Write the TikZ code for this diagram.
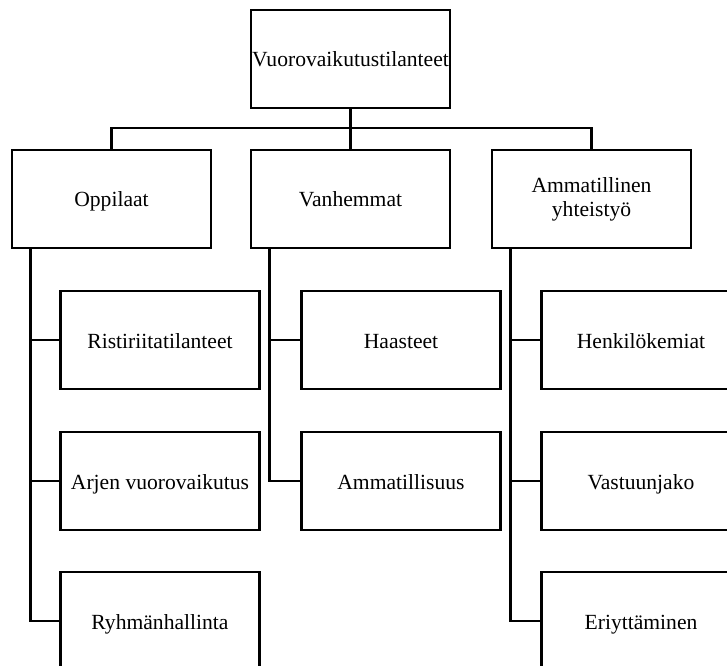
\documentclass[tikz,border=0pt]{standalone}
\usepackage{fontspec}
\setmainfont{Liberation Serif}
\usetikzlibrary{positioning}

\tikzset{
	box/.style={draw, line width=2pt, minimum width=149.25pt, minimum height=73.5pt,
		inner sep=0pt, text height=13pt, text depth=1pt, align=center,
		font=\fontsize{16.2}{18}\selectfont},
	link/.style={line width=2pt}
}

\begin{document}
\begin{tikzpicture}[x=0.75pt, y=-0.75pt]
			%%%%% START %%%%%
			\useasboundingbox (0, 0) rectangle (727, 666);
			
			\node[box] (top) at (350.5, 59) {Vuorovaikutustilanteet};
			
			\node[box] (opp) at (111.5, 199) {Oppilaat};
			\node[box] (van) at (350.5, 199) {Vanhemmat};
			\node[box, text height={}, text depth={}] (amm) at (591.5, 199) {Ammatillinen\\yhteistyö};
			
			\node[box] (ris) at (160, 340) {Ristiriitatilanteet};
			\node[box] (arj) at (160, 481) {Arjen vuorovaikutus};
			\node[box] (ryh) at (160, 621) {Ryhmänhallinta};
			
			\node[box] (haa) at (401, 340) {Haasteet};
			\node[box] (amt) at (401, 481) {Ammatillisuus};
			
			\node[box] (hen) at (641, 340) {Henkilökemiat};
			\node[box] (vas) at (641, 481) {Vastuunjako};
			\node[box] (eri) at (641, 621) {Eriyttäminen};
			
			\coordinate (bar) at (350.5, 128);
			\draw[link] (top.south) -- (bar);
			\draw[link] (opp.north) |- (bar) -| (amm.north);
			\draw[link] (bar) -- (van.north);
			
			\coordinate (oppspine) at ([xshift=15pt]opp.south west);
			\draw[link] (oppspine) |- (ryh.west);
			\draw[link] (ris.west) -- (ris.west -| oppspine);
			\draw[link] (arj.west) -- (arj.west -| oppspine);
			
			\coordinate (vanspine) at ([xshift=15pt]van.south west);
			\draw[link] (vanspine) |- (amt.west);
			\draw[link] (haa.west) -- (haa.west -| vanspine);
			
			\coordinate (ammspine) at ([xshift=15pt]amm.south west);
			\draw[link] (ammspine) |- (eri.west);
			\draw[link] (hen.west) -- (hen.west -| ammspine);
			\draw[link] (vas.west) -- (vas.west -| ammspine);
			%%%%% END %%%%%
\end{tikzpicture}
\end{document}
